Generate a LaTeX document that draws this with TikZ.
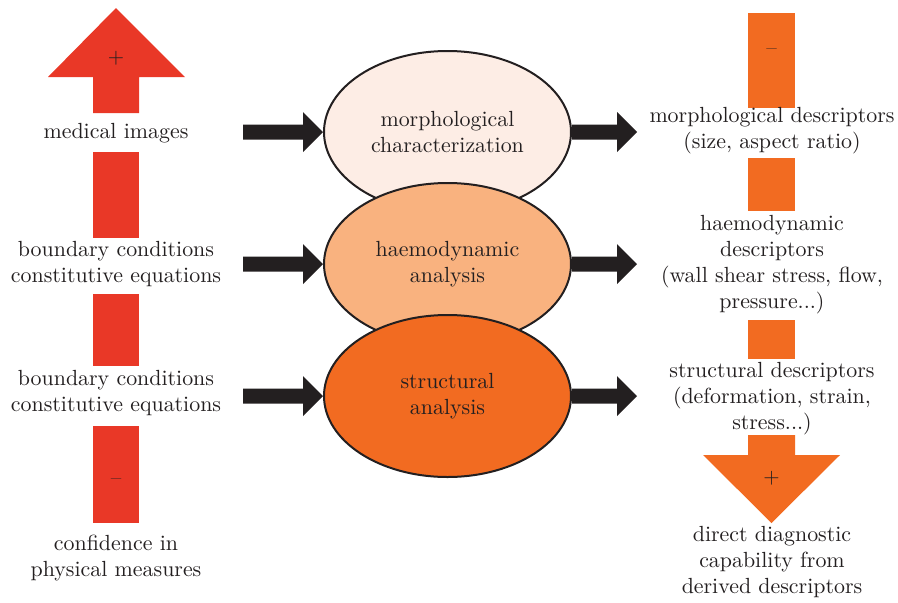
\documentclass[tikz,border=0pt]{standalone}
\usepackage{fontspec}
\newfontfamily\lmten{lmroman10-regular}[Extension=.otf]
\usetikzlibrary{shapes.geometric,calc}
\definecolor{redA}{RGB}{233,56,39}
\definecolor{oraA}{RGB}{242,107,33}
\definecolor{ellA}{RGB}{253,237,229}
\definecolor{ellB}{RGB}{249,178,127}
\definecolor{ellC}{RGB}{242,107,33}
\definecolor{ink}{RGB}{35,31,32}
\newcommand\blockarrow[2]{%
  \fill[ink] let \p1=(#1), \p2=(#2) in
    (\x1,{\y1+7.5pt}) -- ({\x2-20pt},{\y1+7.5pt}) -- ({\x2-20pt},{\y1+20pt}) --
    (\x2,\y1) -- ({\x2-20pt},{\y1-20pt}) -- ({\x2-20pt},{\y1-7.5pt}) --
    (\x1,{\y1-7.5pt}) -- cycle;}
\begin{document}
\begin{tikzpicture}[x=1pt,y=-1pt,
  txt/.style={font=\lmten\fontsize{21.9}{26}\selectfont, align=center, inner sep=0pt, text=ink},
  sym/.style={font=\lmten\fontsize{21}{24}\selectfont, inner sep=0pt, text=ink},
  ellnode/.style={ellipse, draw=ink, line width=2pt, minimum width=247pt,
    minimum height=162pt, inner sep=0pt, txt}]
\useasboundingbox (0,0) rectangle (898,603);

% left red column
\fill[redA] (93,113) -- (93,77) -- (48,77) -- (116,8) -- (185,77) -- (139,77) -- (139,113) -- cycle;
\node[sym] (plusL) at (116,58) {+};
\fill[redA] (93,152) rectangle (139,238);
\fill[redA] (93,294) rectangle (139,366);
\fill[redA] (93,426) rectangle (139,523);
\node[sym] (minusL) at (116,482) {–};

\node[txt] (mi) at (116,133) {medical images};
\node[txt] (bc1) at (116,264) {boundary conditions\\constitutive equations};
\node[txt] (bc2) at (116,393.5) {boundary conditions\\constitutive equations};
\node[txt] (conf) at (116,558.5) {confidence in\\physical measures};

% right orange column
\fill[oraA] (748,13) rectangle (795,108);
\node[sym] (minusR) at (771.5,52) {–};
\fill[oraA] (748,158) rectangle (795,211);
\fill[oraA] (748,320) rectangle (795,359);
\fill[oraA] (748,435) -- (748,455) -- (703,455) -- (771.5,523) -- (840,455) -- (795,455) -- (795,435) -- cycle;
\node[sym] (plusR) at (771.5,478) {+};

\node[txt] (md) at (772,131) {morphological descriptors\\(size, aspect ratio)};
\node[txt] (hd) at (772,264.5) {haemodynamic\\descriptors\\(wall shear stress, flow,\\pressure...)};
\node[txt] (sd) at (772,398.5) {structural descriptors\\(deformation, strain,\\stress...)};
\node[txt] (dd) at (772,562.5) {direct diagnostic\\capability from\\derived descriptors};

% ellipses
\node[ellnode, fill=ellA] (e1) at (447.5,132) {morphological\\characterization};
\node[ellnode, fill=ellB] (e2) at (447.5,264) {haemodynamic\\analysis};
\node[ellnode, fill=ellC] (e3) at (447.5,396) {structural\\analysis};

% black arrows
\coordinate (l1) at (243,132);
\coordinate (l2) at (243,264);
\coordinate (l3) at (243,396);
\coordinate (r1) at (637,132);
\coordinate (r2) at (637,264);
\coordinate (r3) at (637,396);
\blockarrow{l1}{e1.west}
\blockarrow{l2}{e2.west}
\blockarrow{l3}{e3.west}
\blockarrow{e1.east}{r1}
\blockarrow{e2.east}{r2}
\blockarrow{e3.east}{r3}
\end{tikzpicture}
\end{document}
